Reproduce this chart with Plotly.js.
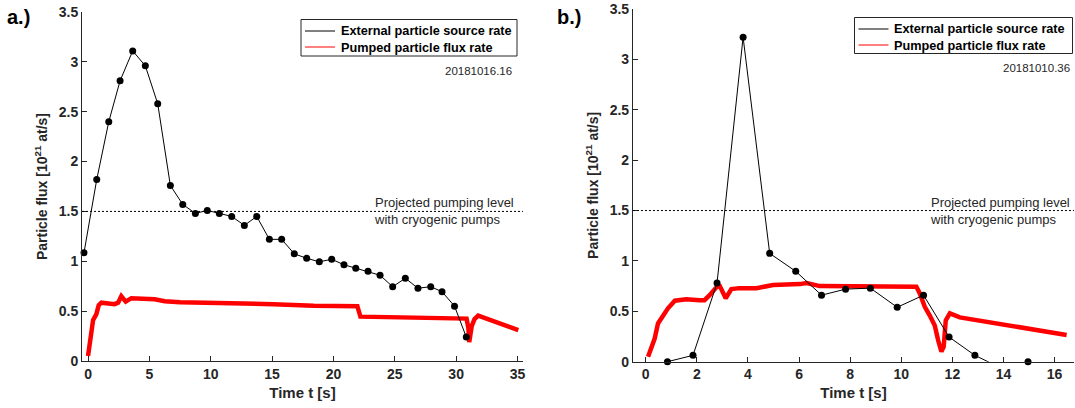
<!DOCTYPE html>
<html>
<head>
<meta charset="utf-8">
<script src="https://cdn.plot.ly/plotly-3.0.1.min.js"></script>
<style>html,body{margin:0;padding:0;background:#fff;}#chart{width:1075px;height:408px;}</style>
</head>
<body>
<div id="chart"></div>
<script>
// ---- Panel a.) shot 20181016.16 ----
const aSourceT = [-0.33,0.71,1.69,2.61,3.64,4.67,5.68,6.71,7.72,8.75,9.72,10.70,11.71,12.74,13.75,14.78,15.78,16.81,17.82,18.85,19.86,20.86,21.82,22.82,23.80,24.83,25.86,26.89,27.93,28.85,29.87,30.83];
const aSourceFlux = [1.085,1.82,2.40,2.81,3.11,2.96,2.58,1.76,1.57,1.48,1.51,1.48,1.45,1.36,1.45,1.22,1.22,1.075,1.03,0.995,1.02,0.965,0.93,0.90,0.86,0.745,0.83,0.73,0.745,0.695,0.55,0.24];
const aPumpT = [0,0.22,0.41,0.68,0.87,1.09,2.17,2.45,2.71,3.07,3.53,5.43,6.25,7.5,10.2,15.1,18.4,21.6,21.95,22.2,25.0,28.0,30.85,31.0,31.07,31.27,31.5,31.8,35.07];
const aPumpFlux = [0.05,0.245,0.41,0.47,0.56,0.585,0.57,0.585,0.65,0.595,0.63,0.62,0.60,0.59,0.585,0.57,0.555,0.55,0.55,0.445,0.44,0.435,0.425,0.33,0.19,0.35,0.42,0.455,0.31];
const aShot = "20181016.16";

// ---- Panel b.) shot 20181010.36 ----
const bSourceT = [0.85,1.85,2.79,3.81,4.85,5.87,6.88,7.82,8.79,9.84,10.87,11.87,12.88,13.88,14.96];
const bSourceFlux = [0,0.063,0.78,3.22,1.075,0.897,0.66,0.72,0.73,0.54,0.66,0.245,0.063,-0.06,0];
const bPumpT = [0.09,0.22,0.35,0.48,0.68,0.87,1.14,1.59,2.11,2.3,2.5,2.77,2.9,3.13,3.35,3.68,4.33,4.98,6.03,6.3,6.81,7.33,8.11,9.4,10.59,10.72,10.92,11.11,11.31,11.44,11.57,11.66,11.74,11.9,12.29,16.47];
const bPumpFlux = [0.05,0.15,0.23,0.38,0.45,0.53,0.605,0.62,0.61,0.61,0.66,0.74,0.75,0.63,0.72,0.73,0.73,0.76,0.77,0.78,0.75,0.75,0.74,0.74,0.745,0.68,0.545,0.46,0.36,0.215,0.10,0.15,0.41,0.48,0.44,0.265];
const bShot = "20181010.36";

const projectedLevel = 1.5;
const projectedLabel = 'Projected pumping level<br>with cryogenic pumps';
const xTicksA = [0,5,10,15,20,25,30,35];
const xTicksB = [0,2,4,6,8,10,12,14,16];
const yTicks = [0,0.5,1,1.5,2,2.5,3,3.5];
const legendNames = ["External particle source rate","Pumped particle flux rate"];
const legendColors = ['#000000','#ff0000'];

const FONT = '"Liberation Sans", Arial, Helvetica, sans-serif';
const AX = '#262626';
const W = 1075, H = 408;
const px = v => v / W, py = v => 1 - v / H;

function visible(xs, ys){ const ox=[], oy=[]; xs.forEach((x,i)=>{ if(ys[i]>=0){ox.push(x);oy.push(ys[i]);} }); return [ox,oy]; }

function panel(xa, ya, st, sf, pt, pf){
  const [mx,my] = visible(st, sf);
  return [
    {x:pt, y:pf, xaxis:xa, yaxis:ya, mode:'lines', line:{color:'#ff0000', width:4.5}, name:legendNames[1], showlegend:false},
    {x:st, y:sf, xaxis:xa, yaxis:ya, mode:'lines', line:{color:'#000', width:1}, name:legendNames[0], showlegend:false},
    {x:mx, y:my, xaxis:xa, yaxis:ya, mode:'markers', marker:{color:'#000', size:7}, cliponaxis:false, name:legendNames[0], showlegend:false}
  ];
}

const data = [].concat(
  panel('x','y', aSourceT, aSourceFlux, aPumpT, aPumpFlux),
  panel('x2','y2', bSourceT, bSourceFlux, bPumpT, bPumpFlux)
);

function xaxis(domain, range, ticks, anchor){
  return {domain:domain, range:range, anchor:anchor, tickvals:ticks, ticktext:ticks.map(String),
    showline:true, linecolor:AX, linewidth:1, ticks:'inside', ticklen:5, tickcolor:AX,
    showgrid:false, zeroline:false, tickfont:{family:FONT, size:14, color:AX, weight:'bold'},
    title:{text:'<b>Time t [s]</b>', font:{family:FONT, size:15, color:AX}, standoff:6}};
}
function yaxis(domain, anchor){
  return {domain:domain, range:[0,3.5], anchor:anchor, tickvals:yTicks, ticktext:yTicks.map(String),
    showline:true, linecolor:AX, linewidth:1, ticks:'inside', ticklen:5, tickcolor:AX,
    showgrid:false, zeroline:false, tickfont:{family:FONT, size:14, color:AX, weight:'bold'},
    title:{text:'<b>Particle flux [10<sup>21</sup> at/s]</b>', font:{family:FONT, size:14, color:AX}, standoff:7}};
}

// manual legend boxes (pixel positions of box: left, right, top, bottom)
function legendBox(l, r, t, b){
  const shapes = [{type:'rect', xref:'paper', yref:'paper', x0:px(l), x1:px(r), y0:py(b), y1:py(t), line:{color:AX, width:1}, fillcolor:'#fff', layer:'above'}];
  const ann = [];
  legendNames.forEach((n,i)=>{
    const yc = t + 11.5 + 16*i;
    shapes.push({type:'line', xref:'paper', yref:'paper', x0:px(l+4), x1:px(l+34), y0:py(yc), y1:py(yc), line:{color:legendColors[i], width:1}, layer:'above'});
    ann.push({text:'<b>'+n+'</b>', xref:'paper', yref:'paper', x:px(l+37.5), y:py(yc+0.5), xanchor:'left', yanchor:'middle', showarrow:false, font:{family:FONT, size:12.7, color:'#000'}});
  });
  return {shapes, ann};
}
const lgA = legendBox(301, 517, 19.5, 56);
const lgB = legendBox(854.5, 1072.5, 17.5, 53.5);

const layout = {
  width:W, height:H, margin:{l:0,r:0,t:0,b:0}, paper_bgcolor:'#fff', plot_bgcolor:'#fff',
  font:{family:FONT}, showlegend:false,
  xaxis: xaxis([0.0763,0.4865], [-0.49,35.45], xTicksA, 'y'),
  yaxis: yaxis([0.1152,0.9706], 'x'),
  xaxis2: xaxis([0.5888,0.9991], [-0.5,16.76], xTicksB, 'y2'),
  yaxis2: yaxis([0.1135,0.9779], 'x2'),
  shapes:[
    {type:'line', xref:'x domain', yref:'y', x0:0, x1:1, y0:projectedLevel, y1:projectedLevel, line:{color:'#000', width:1, dash:'2px,2px'}},
    {type:'line', xref:'x2 domain', yref:'y2', x0:0, x1:1, y0:projectedLevel, y1:projectedLevel, line:{color:'#000', width:1, dash:'2px,2px'}}
  ].concat(lgA.shapes, lgB.shapes),
  annotations:[
    {text:'<b>a.)</b>', xref:'paper', yref:'paper', x:px(5), y:py(17), xanchor:'left', yanchor:'middle', showarrow:false, font:{family:FONT, size:20, color:'#000'}},
    {text:'<b>b.)</b>', xref:'paper', yref:'paper', x:px(555), y:py(17), xanchor:'left', yanchor:'middle', showarrow:false, font:{family:FONT, size:20, color:'#000'}},
    {text:aShot, xref:'paper', yref:'paper', x:px(514), y:py(71), xanchor:'right', yanchor:'middle', showarrow:false, font:{family:FONT, size:11.5, color:AX}},
    {text:bShot, xref:'paper', yref:'paper', x:px(1072), y:py(68), xanchor:'right', yanchor:'middle', showarrow:false, font:{family:FONT, size:11.5, color:AX}},
    {text:projectedLabel, xref:'paper', yref:'paper', x:px(372), y:py(211), xanchor:'left', yanchor:'middle', align:'left', showarrow:false, font:{family:FONT, size:13, color:AX}},
    {text:projectedLabel, xref:'paper', yref:'paper', x:px(928), y:py(211), xanchor:'left', yanchor:'middle', align:'left', showarrow:false, font:{family:FONT, size:13, color:AX}}
  ].concat(lgA.ann, lgB.ann)
};

Plotly.newPlot('chart', data, layout, {staticPlot:true, displayModeBar:false});
</script>
</body>
</html>
